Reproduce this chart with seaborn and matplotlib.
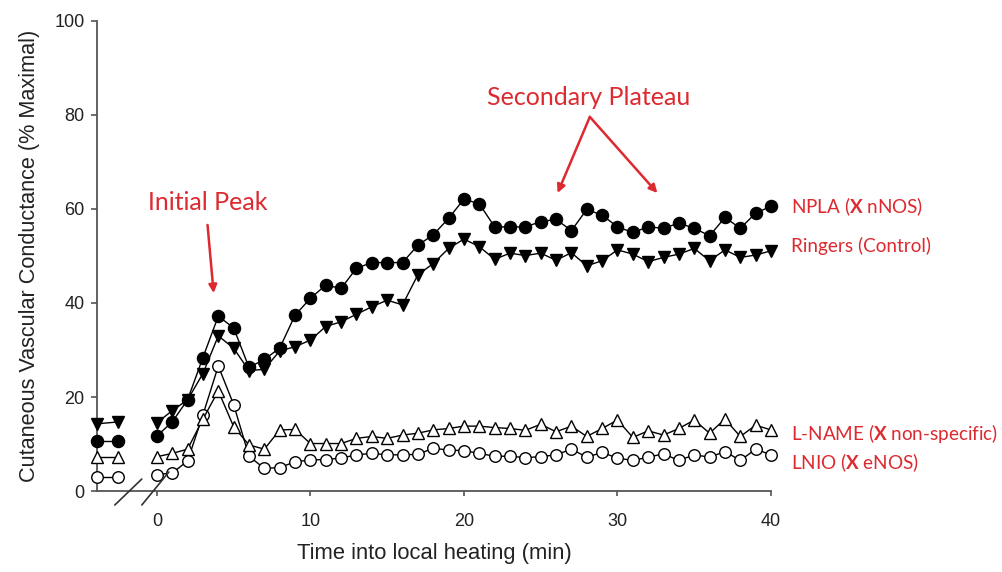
import matplotlib
matplotlib.use("Agg")
import matplotlib.pyplot as plt
import numpy as np
import pandas as pd
import seaborn as sns

# ---- data ---------------------------------------------------------------
time_min = list(range(0, 41))
baseline_time = [-3.9, -2.5]

npla = [11.7, 14.7, 19.4, 28.4, 37.2, 34.7, 26.3, 28.0, 30.4, 37.4,
        41.0, 43.8, 43.1, 47.4, 48.6, 48.6, 48.6, 52.3, 54.5, 58.0,
        62.1, 61.1, 56.2, 56.2, 56.2, 57.3, 57.8, 55.4, 59.9, 58.7,
        56.2, 55.0, 56.2, 55.9, 57.0, 55.9, 54.3, 58.2, 55.9, 59.1, 60.6]
ringers = [14.5, 17.1, 19.4, 25.0, 33.0, 30.4, 25.6, 25.9, 29.8, 30.7,
           32.1, 35.0, 36.0, 37.6, 39.2, 40.6, 39.6, 46.0, 48.4, 51.6,
           53.6, 52.0, 49.3, 50.6, 50.1, 50.6, 49.1, 50.7, 47.9, 49.0,
           51.3, 50.4, 48.8, 49.7, 50.4, 51.6, 49.0, 51.3, 49.7, 50.2, 51.1]
lname = [7.3, 8.0, 8.9, 15.3, 21.3, 13.7, 9.8, 8.9, 13.0, 13.1,
         10.1, 10.1, 10.1, 11.2, 11.6, 11.2, 11.9, 12.3, 13.0, 13.3,
         13.8, 13.8, 13.5, 13.3, 12.9, 14.2, 12.6, 13.8, 11.6, 13.3,
         15.1, 11.4, 12.8, 11.9, 13.3, 15.1, 12.3, 15.3, 11.6, 14.0, 13.0]
lnio = [3.5, 3.8, 6.4, 16.2, 26.6, 18.4, 7.4, 4.8, 5.0, 6.2,
        6.6, 6.7, 7.0, 7.7, 8.0, 7.7, 7.7, 7.8, 9.1, 8.7,
        8.6, 8.0, 7.4, 7.4, 7.1, 7.3, 7.7, 8.9, 7.2, 8.2,
        7.0, 6.5, 7.2, 7.9, 6.5, 7.7, 7.2, 8.4, 6.5, 8.9, 7.7]

npla_base = [10.6, 10.6]
ringers_base = [14.3, 14.7]
lname_base = [7.2, 7.2]
lnio_base = [2.9, 2.9]

series_labels = [r"NPLA ($\mathbf{X}$ nNOS)", "Ringers (Control)",
                 r"L-NAME ($\mathbf{X}$ non-specific)", r"LNIO ($\mathbf{X}$ eNOS)"]
label_y = [60.6, 52.1, 12.3, 6.0]

y_ticks = [0, 20, 40, 60, 80, 100]
x_ticks = [0, 10, 20, 30, 40]

# ---- long-form table ----------------------------------------------------
rows = []
for name, base, vals in [("NPLA", npla_base, npla), ("Ringers", ringers_base, ringers),
                         ("L-NAME", lname_base, lname), ("LNIO", lnio_base, lnio)]:
    for t, v in zip(baseline_time, base):
        rows.append({"series": name, "phase": "baseline", "time": t, "value": v})
    for t, v in zip(time_min, vals):
        rows.append({"series": name, "phase": "heating", "time": t, "value": v})
df = pd.DataFrame(rows)

# ---- style --------------------------------------------------------------
sns.set_theme(style="white")
plt.rcParams["font.family"] = ["Liberation Sans", "DejaVu Sans"]
plt.rcParams["mathtext.fontset"] = "custom"
plt.rcParams["mathtext.rm"] = "Lato"
plt.rcParams["mathtext.bf"] = "Lato:bold"

RED = "#dc2a30"
AXC = "#555555"

fig = plt.figure(figsize=(10.03, 5.72), dpi=100)
ax = fig.add_axes([0.0967, 0.1416, 0.672, 0.8217])

marker_styles = {
    "LNIO":    dict(marker="o", markersize=8.3, markerfacecolor="white", zorder=3),
    "L-NAME":  dict(marker="^", markersize=8.3, markerfacecolor="white", zorder=4),
    "Ringers": dict(marker="v", markersize=8.5, markerfacecolor="black", zorder=5),
    "NPLA":    dict(marker="o", markersize=8.7, markerfacecolor="black", zorder=6),
}
for name in ["LNIO", "L-NAME", "Ringers", "NPLA"]:
    sub = df[df["series"] == name]
    sns.lineplot(data=sub, x="time", y="value", units="phase", estimator=None,
                 color="black", linewidth=1.0, markeredgecolor="black",
                 markeredgewidth=1.0, clip_on=False, ax=ax, legend=False,
                 **marker_styles[name])

ax.set_xlim(-3.9, 40)
ax.set_ylim(0, 100)
ax.set_xticks(x_ticks)
ax.set_yticks(y_ticks)
ax.set_xticklabels([str(v) for v in x_ticks])
ax.set_yticklabels([str(v) for v in y_ticks])

for s in ["top", "right"]:
    ax.spines[s].set_visible(False)
for s in ["left", "bottom"]:
    ax.spines[s].set_color(AXC)
    ax.spines[s].set_linewidth(1.3)

ax.tick_params(axis="y", direction="out", length=4, width=1.2, color=AXC,
               pad=5, labelsize=13, labelcolor="#222222", left=True)
ax.tick_params(axis="x", direction="out", length=3.5, width=1.2, color=AXC,
               pad=12, labelsize=13, labelcolor="#222222", bottom=True)

ax.set_xlabel("Time into local heating (min)", fontsize=15.8, color="#222222", labelpad=10)
ax.set_ylabel("Cutaneous Vascular Conductance (% Maximal)", fontsize=15.6,
              color="#222222", labelpad=10)

# axis break marks
for xs, ys in [([-2.74, -0.98], [-2.98, 2.55]), ([-0.98, 0.78], [-2.98, 4.04])]:
    ax.plot(xs, ys, color="#333333", lw=1.2, clip_on=False, zorder=7)

# series labels on the right
for lab, yv in zip(series_labels, label_y):
    ax.text(41.3, yv, lab, color=RED, fontsize=13.6, family="Lato",
            va="center", ha="left", clip_on=False)

# annotations
ax.text(3.3, 61.3, "Initial Peak", color=RED, fontsize=18, family="Lato",
        ha="center", va="center")
ax.annotate("", xy=(3.7, 42.1), xytext=(3.3, 56.6),
            arrowprops=dict(arrowstyle="-|>", color=RED, lw=1.8, mutation_scale=12,
                            shrinkA=0, shrinkB=0))
ax.text(28.1, 83.8, "Secondary Plateau", color=RED, fontsize=18, family="Lato",
        ha="center", va="center")
for tip in [(26.1, 63.4), (32.6, 63.4)]:
    ax.annotate("", xy=tip, xytext=(28.2, 79.6),
                arrowprops=dict(arrowstyle="-|>", color=RED, lw=1.8, mutation_scale=12,
                                shrinkA=0, shrinkB=0))

fig.savefig("out.png", dpi=100)
